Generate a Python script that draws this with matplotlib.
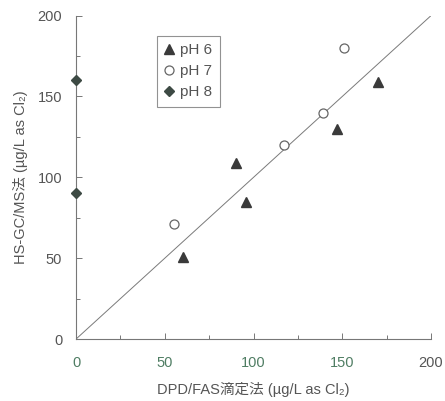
import matplotlib
matplotlib.use("Agg")
import matplotlib.pyplot as plt
from matplotlib.ticker import MultipleLocator

plt.rcParams['font.family'] = ['Liberation Sans', 'Noto Sans CJK JP', 'DejaVu Sans']

# DPD/FAS titration (x) vs HS-GC/MS (y), µg/L as Cl2
ph6_x = [60, 90, 96, 147, 170]
ph6_y = [51, 109, 85, 130, 159]
ph7_x = [55, 117, 139, 151]
ph7_y = [71, 120, 140, 180]
ph8_x = [0, 0]
ph8_y = [160, 90]
ref_line = [0, 200]

x_ticks = [0, 50, 100, 150, 200]
y_ticks = [0, 50, 100, 150, 200]

text_c = '#555555'

fig = plt.figure(figsize=(4.45, 4.01), dpi=100)
ax = fig.add_axes([0.171, 0.1546, 0.7975, 0.8064])

ax.plot(ref_line, ref_line, color='#7a7a7a', lw=0.7, zorder=1)
ax.plot(ph6_x, ph6_y, linestyle='none', marker='^', ms=7.5,
        color='#3a3a3a', label='pH 6', zorder=3)
ax.plot(ph7_x, ph7_y, linestyle='none', marker='o', ms=6.5, mfc='white',
        mec='#666666', mew=0.9, label='pH 7', zorder=3)
ax.plot(ph8_x, ph8_y, linestyle='none', marker='D', ms=5.5,
        color='#3d4a44', label='pH 8', zorder=4, clip_on=False)

ax.set_xlim(0, 200)
ax.set_ylim(0, 200)
ax.set_xticks(x_ticks)
ax.set_yticks(y_ticks)
ax.xaxis.set_minor_locator(MultipleLocator(25))
ax.yaxis.set_minor_locator(MultipleLocator(25))

for side in ('top', 'right'):
    ax.spines[side].set_visible(False)
for side in ('left', 'bottom'):
    ax.spines[side].set_color('#777777')
    ax.spines[side].set_linewidth(0.8)

ax.tick_params(axis='both', which='both', direction='in', color='#777777',
               width=0.7, labelsize=10.5, labelcolor=text_c)
ax.tick_params(axis='both', which='major', length=4)
ax.tick_params(axis='both', which='minor', length=3)
ax.tick_params(axis='x', which='major', pad=12)
ax.tick_params(axis='y', which='major', pad=10)

green_ticks = {'0', '50', '100', '150'}
fig.canvas.draw()
for lbl in ax.get_xticklabels():
    if lbl.get_text() in green_ticks:
        lbl.set_color('#4f7d63')

ax.set_xlabel('DPD/FAS滴定法 (µg/L as Cl₂)', fontsize=10.5, color=text_c,
              labelpad=9)
ax.set_ylabel('HS-GC/MS法 (µg/L as Cl₂)', fontsize=10.5, color=text_c,
              labelpad=7)

leg = ax.legend(loc='upper left', bbox_to_anchor=(0.228, 0.938),
                borderaxespad=0, frameon=True, fancybox=False,
                fontsize=11, handlelength=0.6, handletextpad=0.4,
                borderpad=0.5, labelspacing=0.45)
leg.get_frame().set_edgecolor('#777777')
leg.get_frame().set_linewidth(0.8)
for t in leg.get_texts():
    t.set_color(text_c)

fig.savefig('out.png', dpi=100, facecolor='white')
